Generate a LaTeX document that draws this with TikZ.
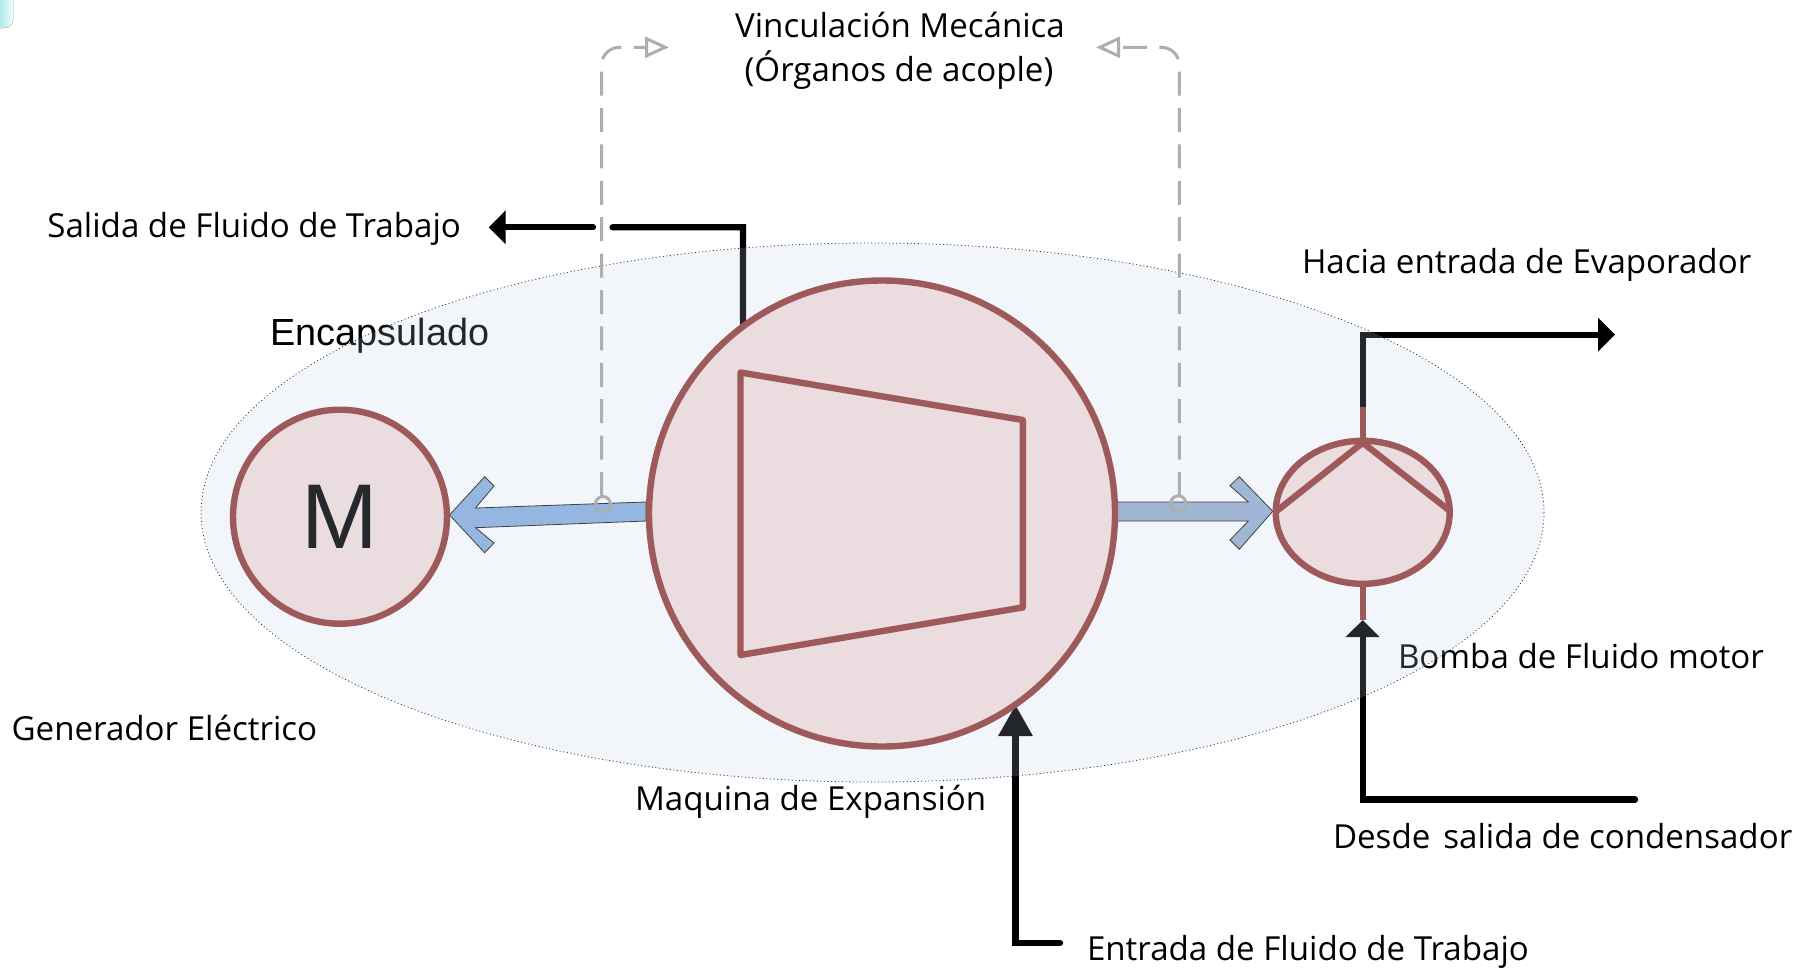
\documentclass[tikz,border=0pt]{standalone}
\usepackage{fontspec}
\setmainfont{Open Sans}
\newfontfamily\arialf{Liberation Sans}
\usetikzlibrary{arrows.meta,shapes.geometric,calc}
\definecolor{redline}{HTML}{9E5A5A}
\definecolor{redfill}{HTML}{EBDCDF}
\definecolor{tintcol}{RGB}{191,208,234}
\definecolor{dash}{HTML}{AEAEAE}
\definecolor{ink}{HTML}{24292E}
\definecolor{armL}{HTML}{95B6E1}
\definecolor{armR}{HTML}{A0B6D4}
\tikzset{
  lab/.style={font=\fontsize{33.1}{38}\selectfont,inner sep=0pt,outer sep=0pt,text=black},
  part/.style={draw=redline,fill=redfill,line width=6.4pt,inner sep=0pt,outer sep=0pt},
  flow/.style={draw=black,line width=6.3pt,line cap=round,line join=miter},
  stub/.style={draw=redline,line width=6.4pt},
  tipflow/.style={-{Triangle[length=17pt,width=33pt]}},
  tiplong/.style={-{Triangle[length=31pt,width=33pt]}},
  link/.style={draw=dash,line width=3pt,dash pattern=on 24pt off 12.4pt,rounded corners=18pt,
     -{Triangle[open,length=24pt,width=21pt,line width=3pt,fill=white]}},
  pin/.style={circle,draw=dash,line width=3pt,minimum size=15pt,inner sep=0pt,outer sep=0pt},
  shaft/.style={draw=black!75,line width=0.8pt,line join=miter}
}
\begin{document}
\begin{tikzpicture}[x=1pt,y=-1pt]
\useasboundingbox (0,0) rectangle (1812,969);
\fill[white] (0,0) rectangle (1812,969);
\fill[left color=black!30!cyan!30,right color=cyan!8] (0,0) -- (13,0) -- (13,20) arc (0:90:8) -- (0,28) -- cycle;
% coordinates of the parts
\coordinate (bigC) at (882,513.5);
\coordinate (pumpC) at (1362.7,512.3);
\coordinate (motC) at (340,516.7);
% labels under the enclosure tint
\node[lab,anchor=center] (t1) at (900,25) {Vinculación Mecánica};
\node[lab,anchor=center] (t2) at (899,70) {(Órganos de acople)};
\node[lab,anchor=west] (t3) at (47.4,229) {Salida de Fluido de Trabajo};
\node[lab,anchor=west] (t4) at (1302,265) {Hacia entrada de Evaporador};
\node[lab,anchor=west] (t5) at (1398,656.5) {Bomba de Fluido motor};
\node[lab,anchor=west] (t6) at (11.6,728) {Generador Eléctrico};
\node[lab,anchor=west] (t7) at (635,802) {Maquina de Expansión};
\node[lab,anchor=west] (t8) at (1333,836.5) {Desde\hspace{13pt}salida de condensador};
\node[lab,anchor=west] (t9) at (1087,952) {Entrada de Fluido de Trabajo};
\node[lab,anchor=west,font=\arialf\fontsize{37.8}{42}\selectfont] (t10) at (270.7,336) {Encapsulado};
% free ends of the connectors
\coordinate (outA) at (743,227.3);
\coordinate (outB) at (612.6,227.3);
\coordinate (outC) at (593,227.3);
\coordinate (outD) at (488.7,227.3);
\coordinate (evA) at (1362.7,406.7);
\coordinate (evB) at (1362.7,334.7);
\coordinate (evC) at (1615,334.7);
\coordinate (cdTip) at (1362.7,620);
\coordinate (cdA) at (1362.7,799.5);
\coordinate (cdB) at (1635,799.5);
\coordinate (inTip) at (1015.5,705);
\coordinate (inA) at (1015.5,943);
\coordinate (inB) at (1060,943);
% working fluid lines
\draw[flow] ($(bigC)+(126.6:233pt)$) -- (outA) -- (outB);
\draw[flow,tipflow] (outC) -- (outD);
\draw[flow,tipflow] (evA) -- (evB) -- (evC);
\draw[flow,tipflow] (cdB) -- (cdA) -- (cdTip);
\draw[flow,tiplong] (inB) -- (inA) -- (inTip);
% enclosure
\fill[tintcol,fill opacity=0.188] (872.5,512.5) ellipse [x radius=671.5,y radius=269.5];
\draw[black!80,line width=0.8pt,dash pattern=on 1pt off 2.6pt] (872.5,512.5) ellipse [x radius=671.5,y radius=269.5];
% shafts
\filldraw[shaft,fill=armL] (646,502) -- (475.5,508) -- (494,486) -- (484.7,476.7) -- (449.5,515) -- (484.7,552.7) -- (494,543) -- (475.5,527.7) -- (646,521) -- cycle;
\filldraw[shaft,fill=armR] (1117,502) -- (1248.3,502) -- (1230,485.7) -- (1239.3,476.7) -- (1272.7,511.3) -- (1239.3,549.3) -- (1230,540) -- (1248.3,521) -- (1117,521) -- cycle;
% stubs and parts
\node[part,circle,minimum size=214pt] (mot) at (motC) {};
\node[font=\arialf\fontsize{92}{96}\selectfont,text=ink,inner sep=0pt] (M) at (motC) {M};
\node[part,circle,minimum size=466pt] (big) at (bigC) {};
\node[part,ellipse,minimum width=174pt,minimum height=143pt] (pump) at (pumpC) {};
\draw[stub] (pump.north) -- (evA);
\draw[stub] (pump.south) -- (cdTip);
\draw[draw=redline,line width=6.4pt,line join=round,line cap=round] (740.5,372.5) -- (1022.8,420) -- (1022.8,607.4) -- (740.5,655) -- cycle;
\draw[draw=redline,line width=6.4pt,line join=round] (1276.7,511) -- (1362.7,442.7) -- (1450,511);
% mechanical links
\node[pin] (p1) at (603,504) {};
\node[pin] (p2) at (1178.3,503.3) {};
\coordinate (l1a) at (601.5,496);
\coordinate (l1b) at (601.5,47.3);
\coordinate (l1c) at (669,47.3);
\coordinate (l2a) at (1179.3,496);
\coordinate (l2b) at (1179.3,47.3);
\coordinate (l2c) at (1096,47.3);
\draw[link] (l1a) -- (l1b) -- (l1c);
\draw[link] (l2a) -- (l2b) -- (l2c);
\end{tikzpicture}
\end{document}
